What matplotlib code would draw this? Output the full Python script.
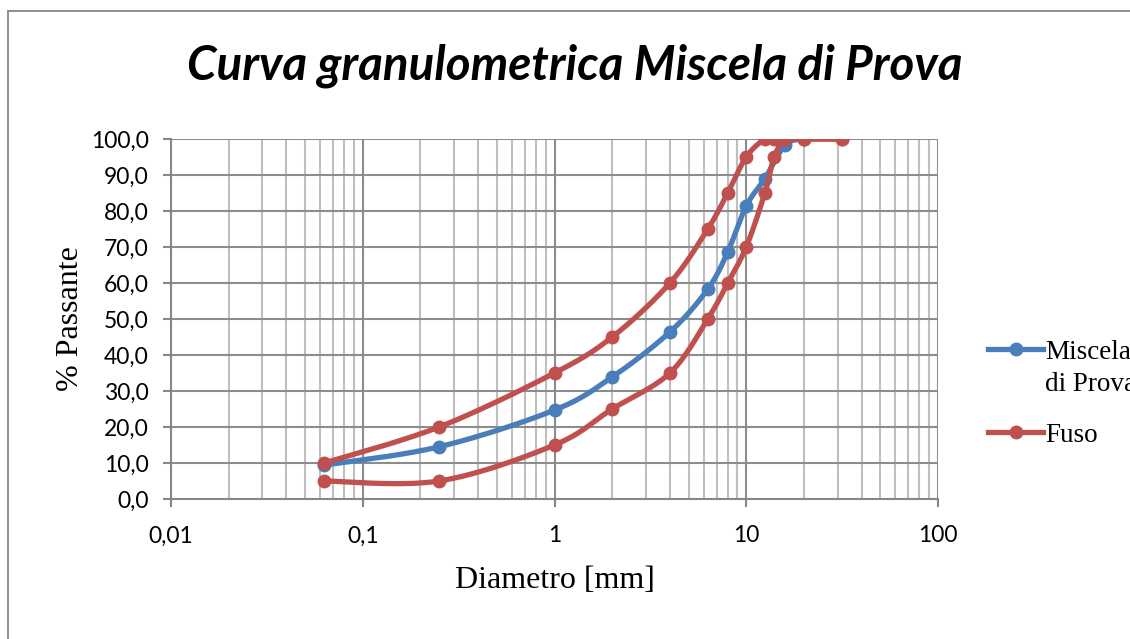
import numpy as np
import matplotlib
matplotlib.use("Agg")
import matplotlib.pyplot as plt
from matplotlib.lines import Line2D
from matplotlib.patches import Rectangle
from matplotlib.ticker import FixedLocator, FuncFormatter

# setacci [mm] e passanti [%]
diam_miscela = [0.063, 0.25, 1, 2, 4, 6.3, 8, 10, 12.5, 16, 20]
pass_miscela = [9.4, 14.5, 24.7, 33.9, 46.4, 58.3, 68.6, 81.4, 89.0, 98.4, 100.0]

diam_fuso = [0.063, 0.25, 1, 2, 4, 6.3, 8, 10, 12.5, 14, 16, 20, 31.5]
fuso_sup = [10, 20, 35, 45, 60, 75, 85, 95, 100, 100, 100, 100, 100]
fuso_inf = [5, 5, 15, 25, 35, 50, 60, 70, 85, 95, 100, 100, 100]

y_ticks = [0, 10, 20, 30, 40, 50, 60, 70, 80, 90, 100]
x_ticks = [0.01, 0.1, 1, 10, 100]

BLUE = "#4a7ebb"
RED = "#c0504d"
LW = 3.8
MS = 9


def smooth(x, y, n=30):
    # curva liscia tipo Excel (Catmull-Rom su log10(x))
    lx = np.log10(np.asarray(x, float))
    yy = np.asarray(y, float)
    P = np.column_stack([lx, yy])
    P = np.vstack([P[0], P, P[-1]])
    out = []
    t = np.linspace(0, 1, n)[:, None]
    for i in range(1, len(P) - 2):
        p0, p1, p2, p3 = P[i - 1], P[i], P[i + 1], P[i + 2]
        seg = 0.5 * ((2 * p1) + (-p0 + p2) * t
                     + (2 * p0 - 5 * p1 + 4 * p2 - p3) * t ** 2
                     + (-p0 + 3 * p1 - 3 * p2 + p3) * t ** 3)
        out.append(seg)
    s = np.vstack(out)
    return 10 ** s[:, 0], s[:, 1]


fig = plt.figure(figsize=(11.3, 6.39), dpi=100)
ax = fig.add_axes([171 / 1130, 1 - 499 / 639, (938 - 171) / 1130, (499 - 139) / 639])

# bordo del grafico
fig.add_artist(Rectangle((8 / 1130, -0.2), 1.2, 1.2 - 11 / 639,
                         transform=fig.transFigure, fill=False,
                         edgecolor="#878787", linewidth=1.3))

ax.set_xscale("log")
ax.set_xlim(0.01, 100)
ax.set_ylim(0, 100)

# griglia
for dec in [0.01, 0.1, 1, 10]:
    for k in range(2, 10):
        ax.axvline(dec * k, color="#bfbfbf", lw=1.5, zorder=0)
for xv in x_ticks[1:]:
    ax.axvline(xv, color="#8c8c8c", lw=1.5, zorder=0)
for yv in y_ticks[1:]:
    ax.axhline(yv, color="#8c8c8c", lw=1.5, zorder=0)

sx, sy = smooth(diam_fuso, fuso_sup)
ax.plot(sx, sy, color=RED, lw=LW, zorder=3, solid_capstyle="round")
ax.plot(diam_fuso, fuso_sup, "o", color=RED, ms=MS, zorder=4)
sx, sy = smooth(diam_fuso, fuso_inf)
ax.plot(sx, sy, color=RED, lw=LW, zorder=3, solid_capstyle="round")
ax.plot(diam_fuso, fuso_inf, "o", color=RED, ms=MS, zorder=4)

sx, sy = smooth(diam_miscela, pass_miscela)
ax.plot(sx, sy, color=BLUE, lw=LW, zorder=2, solid_capstyle="round")
ax.plot(diam_miscela, pass_miscela, "o", color=BLUE, ms=MS, zorder=2)

for side in ["top", "right"]:
    ax.spines[side].set_visible(False)
for side in ["left", "bottom"]:
    ax.spines[side].set_color("#868686")
    ax.spines[side].set_linewidth(1.5)

ax.xaxis.set_major_locator(FixedLocator(x_ticks))
ax.xaxis.set_minor_locator(FixedLocator([]))
ax.xaxis.set_major_formatter(FuncFormatter(lambda v, p: f"{v:g}".replace(".", ",")))
ax.set_yticks(y_ticks)
ax.yaxis.set_major_formatter(FuncFormatter(lambda v, p: f"{v:.1f}".replace(".", ",")))
ax.tick_params(axis="both", length=6, width=1.5, color="#868686",
               labelsize=16.5, labelcolor="black")
ax.tick_params(axis="x", pad=13)
ax.tick_params(axis="y", pad=10)
for lab in ax.get_xticklabels() + ax.get_yticklabels():
    lab.set_family("Lato")

ax.set_xlabel("Diametro [mm]", family="Liberation Serif", fontsize=23, labelpad=14)
ax.set_ylabel("% Passante", family="Liberation Serif", fontsize=23, labelpad=4)

fig.text(575 / 1130, 1 - 66 / 639, "Curva granulometrica Miscela di Prova",
         family="Lato", fontsize=34.2, fontweight="bold", fontstyle="italic",
         ha="center", va="center")

# legenda
for yy, col, txt in [(349, BLUE, "Miscela\ndi Prova"), (432, RED, "Fuso")]:
    yf = 1 - yy / 639
    fig.add_artist(Line2D([988 / 1130, 1043 / 1130], [yf, yf], color=col, lw=LW,
                          transform=fig.transFigure))
    fig.add_artist(Line2D([1015.5 / 1130], [yf], marker="o", color=col, ms=MS,
                          transform=fig.transFigure))
    fig.text(1045 / 1130, yf + 9 / 639, txt, family="Liberation Serif", fontsize=19.5,
             ha="left", va="top", linespacing=1.35)

fig.savefig("out.png", dpi=100)
